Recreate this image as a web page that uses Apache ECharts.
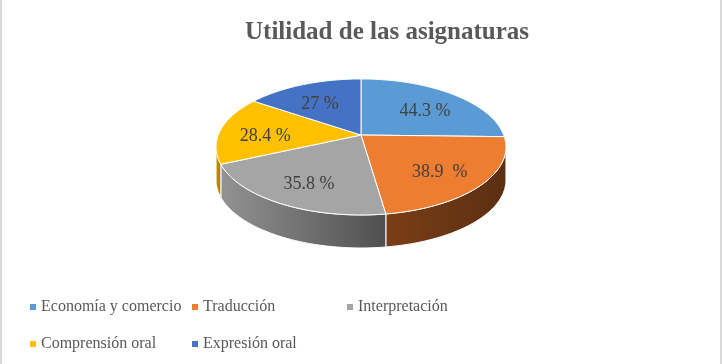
<!DOCTYPE html>
<html>
<head>
<meta charset="utf-8">
<script src="https://cdn.jsdelivr.net/npm/echarts@6/dist/echarts.min.js"></script>
<style>html,body{margin:0;padding:0;background:#fff;}#chart{width:722px;height:364px;}</style>
</head>
<body>
<div id="chart"></div>
<script>
const categories = ['Economía y comercio', 'Traducción', 'Interpretación', 'Comprensión oral', 'Expresión oral'];
const values = [44.3, 38.9, 35.8, 28.4, 27];
const valueLabels = ['44.3 %', '38.9  %', '35.8 %', '28.4 %', '27 %'];
const topColors = ['#5B9BD5', '#ED7D31', '#A5A5A5', '#FFC000', '#4472C4'];
const sideColorsA = ['#3f6f9c', '#7a3e17', '#939393', '#c99700', '#2f5597'];
const sideColorsB = ['#2e5580', '#5b2f12', '#4f4f4f', '#a07800', '#223f70'];

const SERIF = 'Liberation Serif';
const CX = 361, CY = 135, A = 142.7, B = 65.9, K = 0.176, DEPTH = 33, LABEL_R = 0.68, LABEL_DY = 5;
const TOTAL = values.reduce((s, v) => s + v, 0);
const T0 = Math.asin(K);

function proj(theta, r, dy) {
  const u = r * Math.cos(theta), v = r * Math.sin(theta);
  const w = 1 / (1 - K * v);
  return [CX + A * u * w, CY + B * v * w + (dy || 0)];
}

function arcPoints(a1, a2, r, dy) {
  const pts = [];
  const n = Math.max(2, Math.ceil((a2 - a1) / (Math.PI / 180)));
  for (let k = 0; k <= n; k++) pts.push(proj(a1 + (a2 - a1) * k / n, r, dy));
  return pts;
}

function renderItem(params, api) {
  const i = params.seriesIndex;
  const val = api.value(0);
  let before = 0;
  for (let j = 0; j < i; j++) before += values[j];
  const a1 = -Math.PI / 2 + 2 * Math.PI * before / TOTAL;
  const a2 = a1 + 2 * Math.PI * val / TOTAL;
  const children = [];
  const s = Math.max(a1, T0), e = Math.min(a2, Math.PI - T0);
  if (e > s) {
    const topArc = arcPoints(s, e, 1, 0);
    const botArc = arcPoints(s, e, 1, DEPTH).reverse();
    children.push({
      type: 'polygon', z2: 1,
      shape: { points: topArc.concat(botArc) },
      style: {
        fill: new echarts.graphic.LinearGradient(0, 0, 1, 0, [
          { offset: 0, color: sideColorsA[i] }, { offset: 1, color: sideColorsB[i] }
        ]),
        stroke: '#ffffff', lineWidth: 1
      }
    });
  }
  const topPts = [proj(0, 0, 0)].concat(arcPoints(a1, a2, 1, 0));
  children.push({
    type: 'polygon', z2: 5,
    shape: { points: topPts },
    style: { fill: topColors[i], stroke: '#ffffff', lineWidth: 1 }
  });
  const mid = (a1 + a2) / 2;
  const lp = proj(mid, LABEL_R, LABEL_DY);
  children.push({
    type: 'text', z2: 10, x: lp[0], y: lp[1],
    style: {
      text: valueLabels[i], fill: '#404040',
      fontSize: 18, fontFamily: SERIF,
      align: 'center', verticalAlign: 'middle'
    }
  });
  return { type: 'group', children: children };
}

const chart = echarts.init(document.getElementById('chart'), null, { renderer: 'canvas' });
const legendText = { fontSize: 16, fontFamily: SERIF, color: '#595959' };
function makeLegend(left, idxs) {
  return {
    orient: 'vertical', top: 299, left: left, itemGap: 21, itemWidth: 6, itemHeight: 6, icon: 'rect',
    padding: 0, selectedMode: false,
    formatter: '{t|{name}}',
    textStyle: Object.assign({}, legendText, { rich: { t: legendText } }),
    data: idxs.map(k => categories[k])
  };
}
chart.setOption({
  animation: false,
  backgroundColor: '#ffffff',
  textStyle: { fontFamily: SERIF },
  title: {
    text: 'Utilidad de las asignaturas',
    left: 245, top: 20, padding: 0,
    textStyle: { fontSize: 25, fontWeight: 'bold', fontFamily: SERIF, color: '#595959' }
  },
  legend: [makeLegend(30, [0, 3]), makeLegend(192, [1, 4]), makeLegend(347, [2])],
  graphic: [
    { type: 'rect', left: 0, top: 0, shape: { width: 2, height: 364 }, style: { fill: '#d9d9d9' } },
    { type: 'rect', right: 0, top: 0, shape: { width: 2, height: 364 }, style: { fill: '#d9d9d9' } }
  ],
  series: categories.map((name, i) => ({
    type: 'custom',
    name: name,
    coordinateSystem: 'none',
    silent: true,
    itemStyle: { color: topColors[i] },
    renderItem: renderItem,
    data: [[values[i]]]
  }))
});
</script>
</body>
</html>
